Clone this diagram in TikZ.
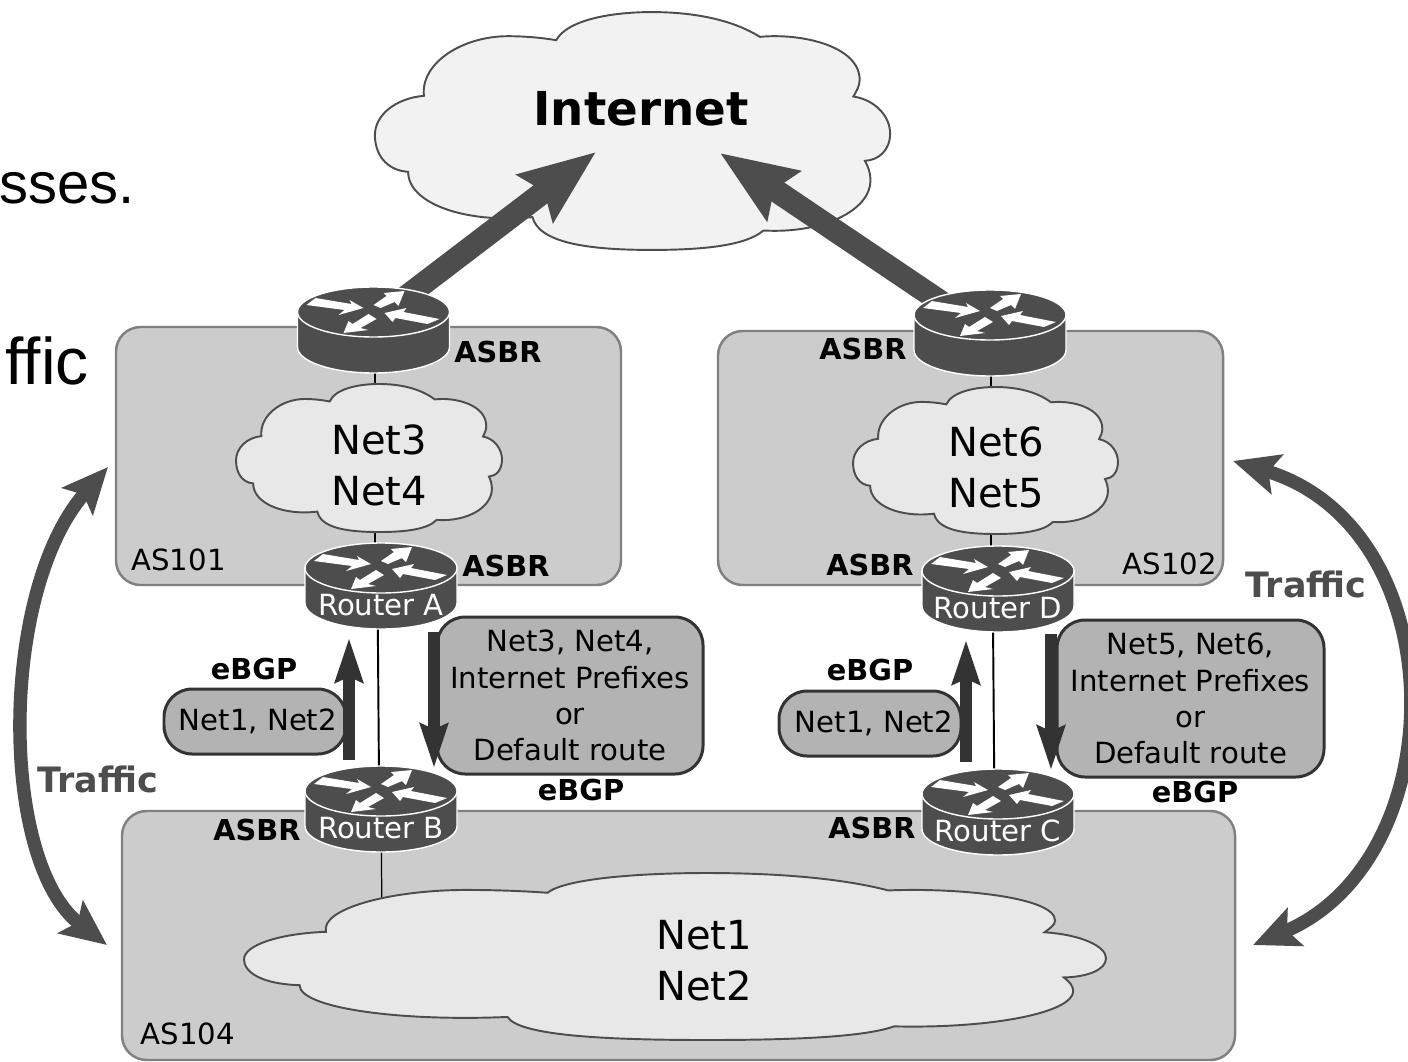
\documentclass[tikz,border=0pt]{standalone}
\usepackage{fontspec}
\setmainfont{DejaVu Sans}
\newfontfamily\slidefont{Liberation Sans}
\usetikzlibrary{arrows.meta,calc}

\definecolor{asgrey}{HTML}{CCCCCC}
\definecolor{asline}{HTML}{808080}
\definecolor{prefixgrey}{HTML}{B3B3B3}
\definecolor{darkline}{HTML}{333333}
\definecolor{routergrey}{HTML}{4D4D4D}
\definecolor{netgrey}{HTML}{E8E8E8}
\definecolor{webgrey}{HTML}{F2F2F2}

\tikzset{
  asbox/.style={draw=asline,fill=asgrey,line width=1.4pt,rounded corners=14pt,inner sep=0pt},
  prefixbox/.style={draw=darkline,fill=prefixgrey,line width=1.7pt,rounded corners=16pt,inner sep=0pt,
    align=center,font=\fontsize{16.6}{20.6}\selectfont},
  cloudline/.style={draw=routergrey,line width=1.1pt},
  link/.style={line width=0.7pt},
  bgparrow/.style={draw=darkline,line width=6.3pt,-{Stealth[length=25pt,width=15.5pt,inset=3pt]}},
  webarrow/.style={draw=routergrey,line width=13pt,-{Stealth[length=43pt,width=33pt,inset=6pt]}},
  trafficarrow/.style={draw=routergrey,line width=7.6pt,{Stealth[length=26pt,width=23pt,inset=5pt]}-{Stealth[length=26pt,width=23pt,inset=5pt]}},
  small/.style={font=\fontsize{16.6}{20}\selectfont,inner sep=0pt},
  bold/.style={font=\fontsize{16.4}{20}\selectfont\bfseries,inner sep=0pt},
  nettext/.style={font=\fontsize{22.8}{29}\selectfont,align=center,inner sep=0pt},
  traffictext/.style={font=\fontsize{19.9}{20}\selectfont\bfseries,text=routergrey,inner sep=0pt},
  slidetext/.style={font=\fontsize{37.5}{40}\selectfont\slidefont,inner sep=0pt,anchor=base east},
  netcloud/.pic={
    \path[pic actions] (-218,-271)
      .. controls (-186,-333) and (-56,-355) .. (54,-355)
      .. controls (174,-355) and (284,-333) .. (364,-281)
      .. controls (484,-293) and (649,-253) .. (649,-153)
      .. controls (649,-133) and (639,-118) .. (631,-103)
      .. controls (694,-93) and (736,-43) .. (736,7)
      .. controls (736,57) and (704,87) .. (664,89)
      .. controls (674,107) and (680,127) .. (680,147)
      .. controls (680,237) and (544,307) .. (374,297)
      .. controls (324,342) and (204,355) .. (54,355)
      .. controls (-116,355) and (-266,337) .. (-286,257)
      .. controls (-476,277) and (-641,217) .. (-641,122)
      .. controls (-706,117) and (-736,67) .. (-736,12)
      .. controls (-736,-48) and (-676,-98) .. (-596,-105)
      .. controls (-606,-203) and (-486,-283) .. (-356,-283)
      .. controls (-306,-283) and (-256,-278) .. (-218,-271) -- cycle;
  },
  router/.pic={
    \coordinate (-c) at (0,0);
    \draw[white,fill=routergrey,line width=0.8pt] (-76,-18) -- (-76,17)
      .. controls (-76,31.4) and (-42,43) .. (0,43)
      .. controls (42,43) and (76,31.4) .. (76,17) -- (76,-18) -- cycle;
    \draw[white,fill=routergrey,line width=0.8pt] (0,-18) ellipse [x radius=76,y radius=25];
    \begin{scope}[shift={(0,-18)}]
      \fill[white] (-67,-7) -- (-58,-14) -- (-22,-8) -- (-24,-12) -- (-10,-4) -- (-35,3) -- (-29,-2) -- cycle;
      \fill[white] (0,-7) -- (13,-16) -- (10,-19) -- (31,-21) -- (25,-6) -- (21,-10) -- (7,-4) -- cycle;
      \fill[white] (11,1) -- (33,-4) -- (30,0) -- (66,7) -- (54,12) -- (22,6) -- (19,10) -- cycle;
      \fill[white] (-30,21) -- (-25,9) -- (-21,12) -- (-5,2) -- (3,7) -- (-13,16) -- (-5,18) -- cycle;
    \end{scope}
    \node[small,text=white] (-label) at (0,19) {#1};
  }
}

\begin{document}
\begin{tikzpicture}[x=0.02cm,y=-0.02cm]

  \useasboundingbox (0,0) rectangle (1408,1061);

  % what is left of the slide behind the figure
  \node[slidetext,font=\fontsize{33}{40}\selectfont\slidefont] (slideone) at (135,203) {sses.};
  \node[slidetext] (slidetwo) at (89,384) {ffic};

  % autonomous systems
  \node[asbox,minimum width=505*0.02cm,minimum height=258*0.02cm] (as101) at (368.5,456) {};
  \node[asbox,minimum width=505*0.02cm,minimum height=254*0.02cm] (as102) at (970.5,458) {};
  \node[asbox,minimum width=1113*0.02cm,minimum height=249*0.02cm] (as104) at (678.5,935.5) {};

  \node[small] (name101) at (178.5,560) {AS101};
  \node[small] (name102) at (1170,564) {AS102};
  \node[small] (name104) at (188,1034) {AS104};

  % hidden points of the clouds
  \coordinate (net34) at (375,458);
  \coordinate (net56) at (991,460);
  \coordinate (net12) at (382,920);

  % routers go on top of these links, so they come first
  \coordinate (topA) at (373.5,330);
  \coordinate (topD) at (990,333);
  \coordinate (midA) at (381,586);
  \coordinate (midD) at (998,589);
  \coordinate (midB) at (381,809);
  \coordinate (midC) at (998,812);

  \draw[link] (net34 |- topA) -- (net34 |- midA);
  \draw[link] (net56 |- topD) -- (net56 |- midD);
  \draw[link,line width=1.1pt] ([xshift=-2pt]midA) -- ([xshift=-1pt]midB);
  \draw[link,line width=1.1pt] ([xshift=-3pt]midD) -- ([xshift=-2pt]midC);
  \draw[link] (midB) -- (net12);

  % clouds
  \pic[cloudline,fill=webgrey,xscale=0.35,yscale=0.335] at (632.5,131) {netcloud};
  \pic[cloudline,fill=netgrey,xscale=0.1807,yscale=0.2085] at (369,458) {netcloud};
  \pic[cloudline,fill=netgrey,xscale=0.18,yscale=0.207] at (985.5,460.5) {netcloud};
  \pic[cloudline,fill=netgrey,xscale=0.5856,yscale=0.2352] at (675,956.5) {netcloud};

  \node[font=\fontsize{26.6}{30}\selectfont\bfseries,inner sep=0pt] (internet) at (641,109) {Internet};
  \node[nettext] (net3) at (379,465) {Net3\\Net4};
  \node[nettext] (net6) at (996,467) {Net6\\Net5};
  \node[nettext] (net1) at (704,961) {Net1\\Net2};

  % arrows up to the internet
  \coordinate (tipleft) at (596,152);
  \coordinate (tipright) at (720,153);
  \coordinate (tailleft) at (373,322);
  \coordinate (tailright) at (990,335);
  \draw[webarrow] (tailleft) -- (tipleft);
  \draw[webarrow] (tailright) -- (tipright);

  % prefix boxes
  \begin{scope}[every node/.style={prefixbox}]
    \node[minimum width=266*0.02cm,minimum height=157*0.02cm] (prefixA) at (570,695.5) {Net3, Net4,\\Internet Prefixes\\or\\Default route};
    \node[minimum width=267*0.02cm,minimum height=157*0.02cm] (prefixD) at (1190.5,698.5) {Net5, Net6,\\Internet Prefixes\\or\\Default route};
    \node[minimum width=182*0.02cm,minimum height=65*0.02cm] (prefixB) at (255,721.5) {\hspace{3.4pt}Net1, Net2};
    \node[minimum width=182*0.02cm,minimum height=65*0.02cm] (prefixC) at (870,723.5) {\hspace{4.5pt}Net1, Net2};
  \end{scope}

  % eBGP arrows
  \coordinate (upBs) at (349,760);
  \coordinate (upBe) at (349,638);
  \coordinate (downAs) at (434,632);
  \coordinate (downAe) at (434,768);
  \coordinate (upCs) at (966,762);
  \coordinate (upCe) at (966,640);
  \coordinate (downDs) at (1051,634);
  \coordinate (downDe) at (1051,770);
  \draw[bgparrow] (upBs) -- (upBe);
  \draw[bgparrow] (downAs) -- (downAe);
  \draw[bgparrow] (upCs) -- (upCe);
  \draw[bgparrow] (downDs) -- (downDe);

  % routers
  \pic (routerT) at (topA) {router={}};
  \pic (routerU) at (topD) {router={}};
  \pic (routerA) at (midA) {router={Router A}};
  \pic (routerD) at (midD) {router={Router D}};
  \pic (routerB) at (midB) {router={Router B}};
  \pic (routerC) at (midC) {router={Router C}};

  \begin{scope}[every node/.style={bold}]
    \node (asbr1) at (498,352) {ASBR};
    \node (asbr2) at (863,349) {ASBR};
    \node (asbr3) at (506,566) {ASBR};
    \node (asbr4) at (870,565) {ASBR};
    \node (asbr5) at (257,830) {ASBR};
    \node (asbr6) at (872,828) {ASBR};
    \node (bgp1) at (254,669) {eBGP};
    \node (bgp2) at (581,790) {eBGP};
    \node (bgp3) at (870,670) {eBGP};
    \node (bgp4) at (1195,792) {eBGP};
  \end{scope}

  % traffic
  \coordinate (flow1) at (108,467);
  \coordinate (flow2) at (107,945);
  \coordinate (flow3) at (1233,461);
  \coordinate (flow4) at (1253,945);
  \draw[trafficarrow] (flow1) .. controls (-1,590) and (-1,862) .. (flow2);
  \draw[trafficarrow] (flow3) .. controls (1456,528) and (1456,859) .. (flow4);
  \node[traffictext] (traffic1) at (98,779) {Traffic};
  \node[traffictext] (traffic2) at (1306,584) {Traffic};

\end{tikzpicture}
\end{document}
